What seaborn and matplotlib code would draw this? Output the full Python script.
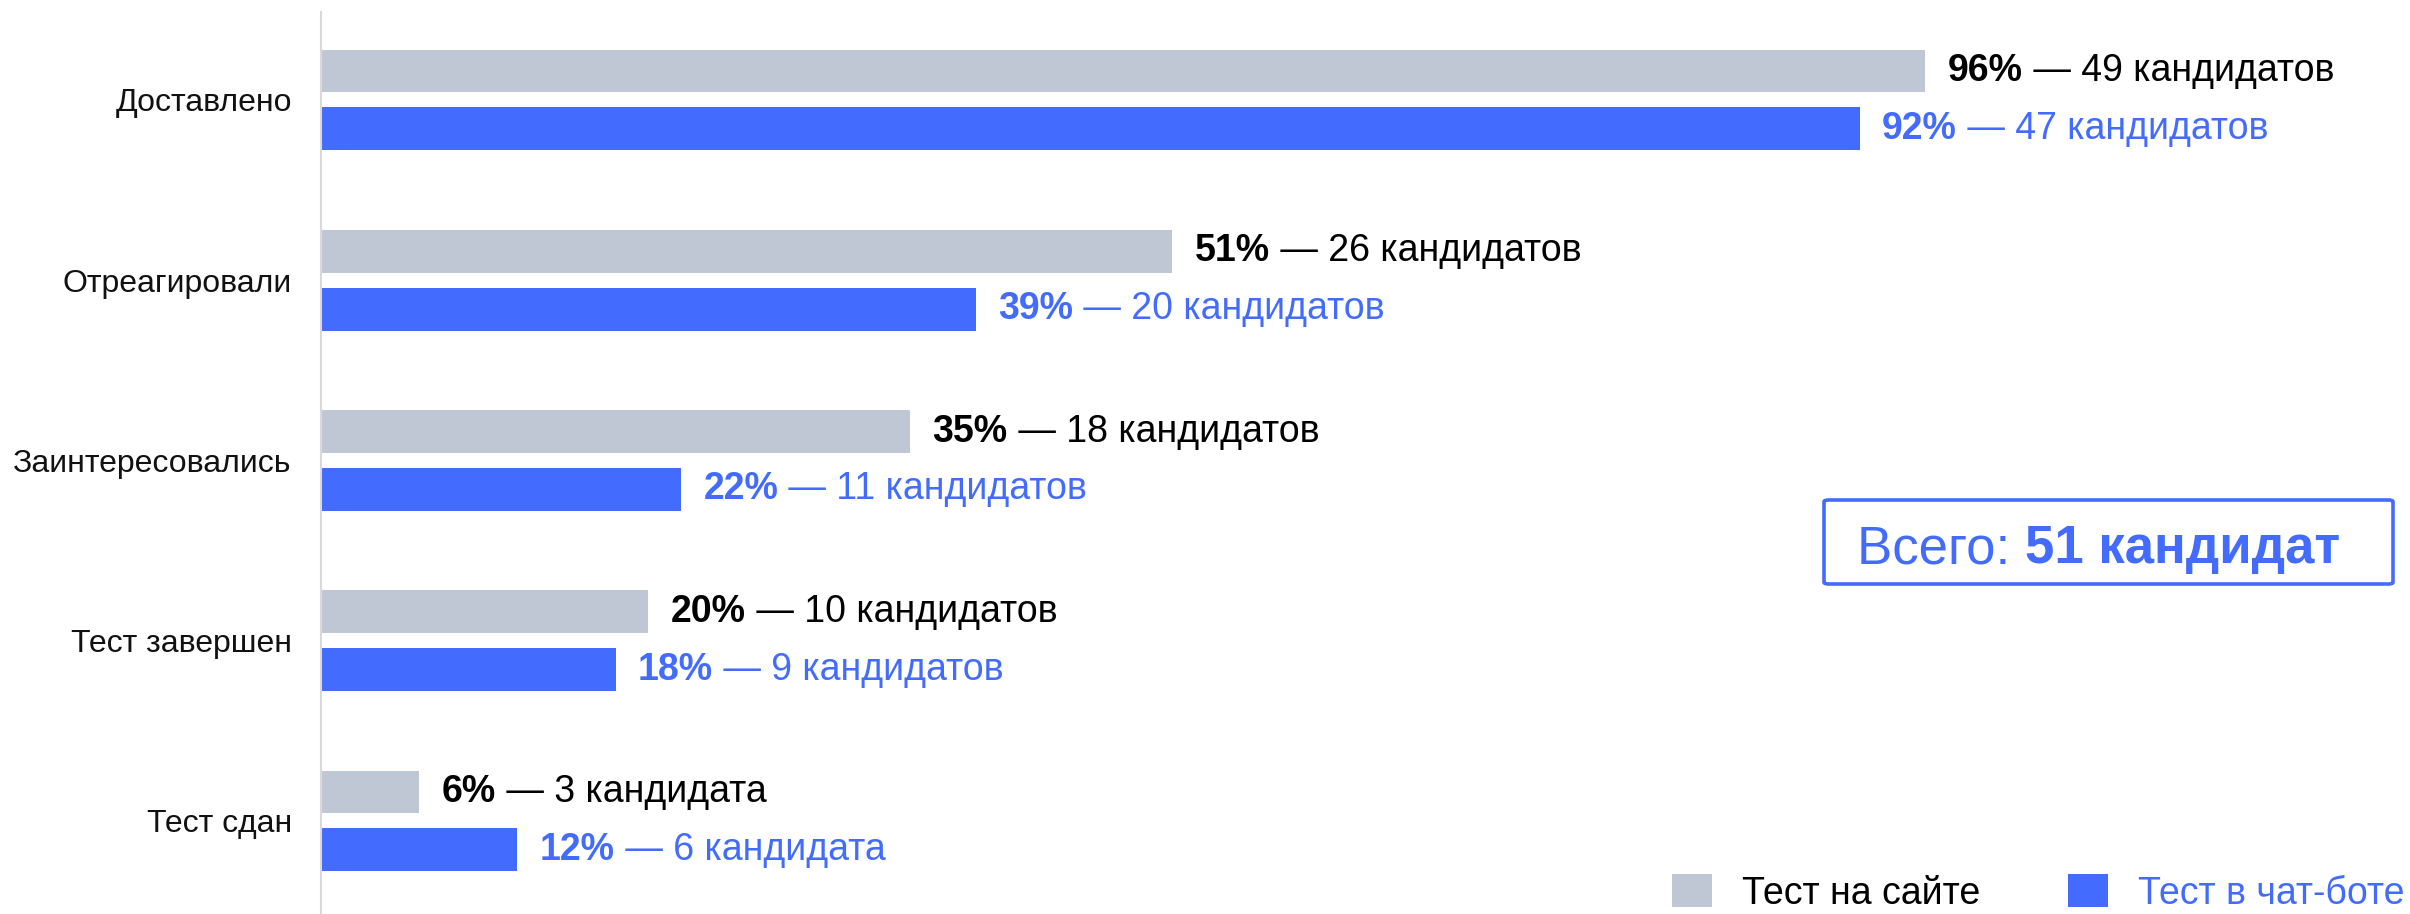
import matplotlib
matplotlib.use("Agg")
import matplotlib.pyplot as plt
import seaborn as sns
import pandas as pd
from matplotlib.patches import FancyBboxPatch

sns.set_style("white")
plt.rcParams["font.family"] = ["Liberation Sans", "DejaVu Sans"]

# ---- data ----
categories = ["Доставлено", "Отреагировали", "Заинтересовались", "Тест завершен", "Тест сдан"]
series_names = ["Тест на сайте", "Тест в чат-боте"]
site_pct = [96, 51, 35, 20, 6]
bot_pct = [92, 39, 22, 18, 12]
site_n = [49, 26, 18, 10, 3]
bot_n = [47, 20, 11, 9, 6]
site_word = ["кандидатов", "кандидатов", "кандидатов", "кандидатов", "кандидата"]
bot_word = ["кандидатов", "кандидатов", "кандидатов", "кандидатов", "кандидата"]
total_n = 51
total_label = "Всего: "
total_value = "51 кандидат"

GRAY = "#C0C7D4"
BLUE = "#436CFF"

df = pd.DataFrame({
    "cat": categories * 2,
    "series": [series_names[0]] * len(categories) + [series_names[1]] * len(categories),
    "n": site_n + bot_n,
})

W, H = 2410, 914
fig = plt.figure(figsize=(W / 100, H / 100), dpi=100)
ax = fig.add_axes([321 / W, 0.0, (W - 321) / W, 902 / H])

sns.barplot(data=df, y="cat", x="n", hue="series", orient="h",
            palette=[GRAY, BLUE], saturation=1, width=0.643, gap=0.259,
            linewidth=0, ax=ax, legend=True)

# x axis in candidate counts; total_n candidates == 100 %
ax.set_xlim(0, 1.251 * total_n)
ax.set_ylim(4.516, -0.488)
ax.set_xlabel("")
ax.set_ylabel("")
ax.set_xticks([])
for s in ["top", "right", "bottom"]:
    ax.spines[s].set_visible(False)
ax.spines["left"].set_color("#D9D9D9")
ax.spines["left"].set_linewidth(1.5)
ax.tick_params(axis="y", length=0, pad=21, labelsize=23, labelcolor="#111111")

# ---- value labels ----
label_sets = [(site_pct, site_n, site_word, "#000000"), (bot_pct, bot_n, bot_word, BLUE)]
for container, (pcts, ns, words, col) in zip(ax.containers, label_sets):
    for bar, p, n, w in zip(container, pcts, ns, words):
        yc = bar.get_y() + bar.get_height() / 2
        xe = bar.get_x() + bar.get_width()
        t1 = ax.annotate(f"{p}%", xy=(xe, yc), xytext=(16, 0), textcoords="offset points",
                         ha="left", va="center", fontsize=27, fontweight="bold", color=col)
        ax.annotate(f" — {n} {w}", xy=(1, 0), xycoords=t1, ha="left", va="bottom",
                    fontsize=27, color=col)

# ---- legend ----
handles, labels = ax.get_legend_handles_labels()
ax.get_legend().remove()
leg = fig.legend(handles, labels, loc="center right", bbox_to_anchor=(2404 / W, 1 - 893 / H),
                 ncol=2, frameon=False, fontsize=27, handlelength=1.05, handleheight=0.95,
                 handletextpad=0.8, columnspacing=2.35, borderpad=0, borderaxespad=0)
for txt, col in zip(leg.get_texts(), ["#000000", BLUE]):
    txt.set_color(col)

# ---- total box ----
box = FancyBboxPatch((1824 / W, 1 - 584 / H), (2393 - 1824) / W, (584 - 500) / H,
                     boxstyle="round,pad=0,rounding_size=0.002", transform=fig.transFigure,
                     fill=False, edgecolor=BLUE, linewidth=2.6)
fig.patches.append(box)
tt = fig.text(1857 / W, 1 - 563 / H, total_label, fontsize=38, color=BLUE,
              ha="left", va="baseline")
ax.annotate(total_value, xy=(1, 0), xycoords=tt, ha="left", va="bottom",
            fontsize=38, fontweight="bold", color=BLUE, annotation_clip=False)

fig.savefig("out.png", dpi=100)
